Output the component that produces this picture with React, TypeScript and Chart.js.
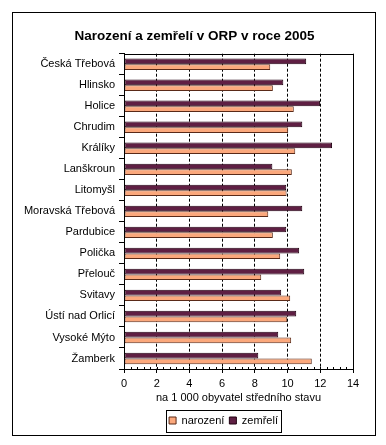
import React, { useEffect, useRef } from "react";
import { Chart, registerables } from "chart.js";

Chart.register(...registerables);

const categories = [
  "Česká Třebová",
  "Hlinsko",
  "Holice",
  "Chrudim",
  "Králíky",
  "Lanškroun",
  "Litomyšl",
  "Moravská Třebová",
  "Pardubice",
  "Polička",
  "Přelouč",
  "Svitavy",
  "Ústí nad Orlicí",
  "Vysoké Mýto",
  "Žamberk",
];

const narozeni = [8.94, 9.1, 10.38, 10.04, 10.47, 10.26, 9.94, 8.82, 9.1, 9.55, 8.39, 10.16, 9.98, 10.22, 11.48];
const zemreli = [11.14, 9.74, 11.98, 10.9, 12.72, 9.07, 9.92, 10.9, 9.92, 10.71, 11.02, 9.61, 10.53, 9.43, 8.21];

const xTicks = [0, 2, 4, 6, 8, 10, 12, 14];

const FONT = "'Liberation Sans', Arial, sans-serif";

const framePlugin = {
  id: "frame",
  afterLayout(chart: any) {
    const lg = chart.legend;
    if (lg) {
      lg.left += 47;
      lg.right += 47;
    }
    const tb = chart.titleBlock;
    if (tb) {
      tb.left += 18;
      tb.right += 18;
    }
  },
  beforeDraw(chart: any) {
    const c = chart.ctx;
    c.save();
    c.fillStyle = "#ffffff";
    c.fillRect(0, 0, chart.width, chart.height);
    c.strokeStyle = "#000000";
    c.lineWidth = 1;
    c.strokeRect(12.5, 12.5, 363, 423);
    c.restore();
  },
  afterDraw(chart: any) {
    const c = chart.ctx;
    const a = chart.chartArea;
    c.save();
    c.strokeStyle = "#000000";
    c.lineWidth = 1;
    c.setLineDash([]);
    c.strokeRect(Math.round(a.left) + 0.5, Math.round(a.top) + 0.5, Math.round(a.right - a.left), Math.round(a.bottom - a.top));
    // minor ticks on x axis
    const xs = chart.scales.x;
    c.beginPath();
    for (let v = 0; v <= 14.001; v += 0.4) {
      const px = Math.round(xs.getPixelForValue(v)) + 0.5;
      c.moveTo(px, Math.round(a.bottom));
      c.lineTo(px, Math.round(a.bottom) - 2);
    }
    c.stroke();
    // legend frame
    const lg = chart.legend;
    if (lg && lg.legendHitBoxes && lg.legendHitBoxes.length) {
      let l = Infinity, r = -Infinity;
      for (const h of lg.legendHitBoxes) {
        l = Math.min(l, h.left);
        r = Math.max(r, h.left + h.width);
      }
      c.strokeRect(Math.round(l - 3) + 0.5, Math.round(lg.top) + 0.5, Math.round(r - l + 6), 22);
    }
    c.restore();
  },
};

export default function App() {
  const ref = useRef<HTMLCanvasElement>(null);
  useEffect(() => {
    if (!ref.current) return;
    const chart = new Chart(ref.current, {
      type: "bar",
      data: {
        labels: categories,
        datasets: [
          {
            label: "zemřelí",
            data: zemreli,
            backgroundColor: "#5f1f43",
            borderColor: "#200010",
            borderWidth: 1,
            borderSkipped: false,
            categoryPercentage: 0.54,
            barPercentage: 1.0,
          },
          {
            label: "narození",
            data: narozeni,
            backgroundColor: "#fba87c",
            borderColor: "#5a2a18",
            borderWidth: 1,
            borderSkipped: false,
            categoryPercentage: 0.54,
            barPercentage: 1.0,
          },
        ],
      },
      options: {
        indexAxis: "y",
        animation: false,
        responsive: false,
        maintainAspectRatio: false,
        layout: { padding: { left: 0, right: 33, top: 20, bottom: 9 } },
        scales: {
          x: {
            min: 0,
            max: 14,
            afterBuildTicks: (s: any) => {
              s.ticks = xTicks.map((v) => ({ value: v }));
            },
            afterFit: (s: any) => {
              s.height = 41;
            },
            grid: {
              color: "#000000",
              lineWidth: 1,
              drawTicks: true,
              tickLength: 4,
              tickColor: "#000000",
              tickBorderDash: [],
            },
            border: { display: true, color: "#000000", dash: [3, 2] },
            ticks: {
              color: "#000000",
              font: { family: FONT, size: 11 },
              padding: 4,
              maxRotation: 0,
            },
            title: {
              display: true,
              text: "na 1 000 obyvatel středního stavu",
              color: "#000000",
              font: { family: FONT, size: 11 },
              padding: { top: 0, bottom: 5 },
            },
          },
          y: {
            offset: true,
            afterFit: (s: any) => {
              s.width = 124;
            },
            grid: {
              offset: true,
              drawOnChartArea: false,
              drawTicks: true,
              tickLength: 5,
              tickColor: "#000000",
              color: "#000000",
            },
            border: { display: true, color: "#000000" },
            ticks: {
              color: "#000000",
              font: { family: FONT, size: 11 },
              padding: 4,
              autoSkip: false,
            },
          },
        },
        plugins: {
          title: {
            display: true,
            text: "Narození a zemřelí v ORP v roce 2005",
            color: "#000000",
            font: { family: FONT, size: 13.5, weight: "bold" },
            padding: { top: 8, bottom: 9.5 },
          },
          legend: {
            position: "bottom",
            reverse: true,
            labels: {
              color: "#000000",
              font: { family: FONT, size: 11 },
              boxWidth: 7,
              boxHeight: 7,
              padding: 5,
            },
          },
          tooltip: { enabled: false },
        },
      },
      plugins: [framePlugin],
    } as any);
    return () => chart.destroy();
  }, []);
  return (
    <div style={{ position: "absolute", left: 0, top: 0, width: 386, height: 445 }}>
      <canvas ref={ref} width={386} height={445} style={{ width: 386, height: 445, display: "block" }} />
    </div>
  );
}
